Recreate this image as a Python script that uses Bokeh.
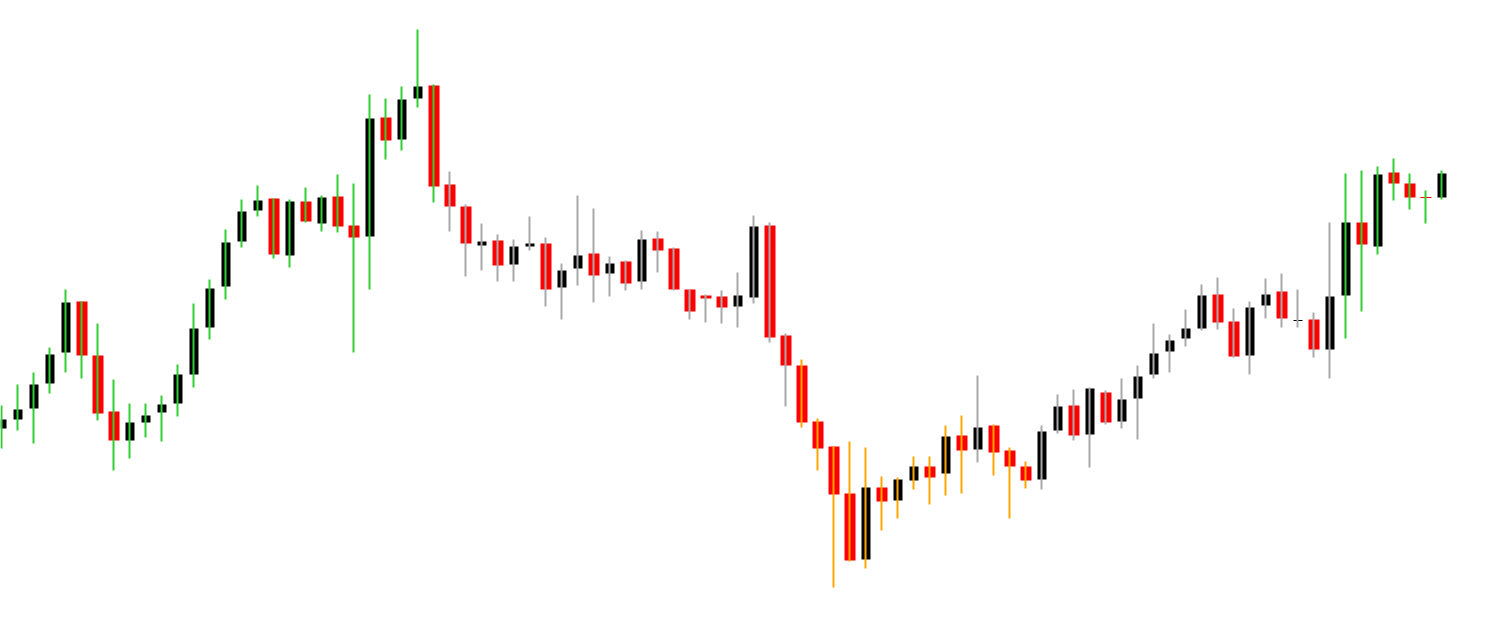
from bokeh.plotting import figure
from bokeh.models import Range1d, ColumnDataSource
from bokeh.embed import file_html
from bokeh.resources import INLINE

# ---- data ----
opens = [1.1172, 1.1181, 1.1192, 1.1217, 1.1248, 1.1299, 1.1245, 1.1189, 1.1160, 1.1178,
         1.1188, 1.1197, 1.1226, 1.1273, 1.1314, 1.1359, 1.1390, 1.1402, 1.1345, 1.1399,
         1.1377, 1.1404, 1.1375, 1.1364, 1.1483, 1.1461, 1.1502, 1.1515, 1.1416, 1.1394,
         1.1355, 1.1360, 1.1336, 1.1354, 1.1357, 1.1313, 1.1332, 1.1347, 1.1327, 1.1339,
         1.1319, 1.1362, 1.1352, 1.1311, 1.1305, 1.1304, 1.1294, 1.1303, 1.1375, 1.1265,
         1.1235, 1.1179, 1.1154, 1.1107, 1.1041, 1.1113, 1.1100, 1.1120, 1.1134, 1.1127,
         1.1165, 1.1151, 1.1175, 1.1150, 1.1134, 1.1121, 1.1170, 1.1195, 1.1166, 1.1208,
         1.1179, 1.1202, 1.1226, 1.1249, 1.1262, 1.1272, 1.1306, 1.1279, 1.1245, 1.1295,
         1.1309, 1.12795, 1.1281, 1.1251, 1.1305, 1.1378, 1.1354, 1.1428, 1.1417, 1.14035,
         1.1403]
highs = [1.1195, 1.1216, 1.1228, 1.1253, 1.1311, 1.1299, 1.1277, 1.1221, 1.1197, 1.1197,
         1.1205, 1.1236, 1.1297, 1.1321, 1.1371, 1.1401, 1.1415, 1.1402, 1.1401, 1.1413,
         1.1405, 1.1426, 1.1417, 1.1506, 1.1502, 1.1514, 1.1571, 1.1516, 1.1429, 1.1396,
         1.1377, 1.1366, 1.1361, 1.1384, 1.1363, 1.1337, 1.1405, 1.1392, 1.1344, 1.1340,
         1.1370, 1.1369, 1.1353, 1.1311, 1.1306, 1.1310, 1.1328, 1.1385, 1.1378, 1.1267,
         1.1241, 1.1182, 1.1154, 1.1159, 1.1153, 1.1124, 1.1123, 1.1144, 1.1144, 1.1175,
         1.1185, 1.1225, 1.1176, 1.1153, 1.1139, 1.1175, 1.1206, 1.1211, 1.1213, 1.1210,
         1.1222, 1.1235, 1.1277, 1.1266, 1.1291, 1.1316, 1.1323, 1.1292, 1.1299, 1.1322,
         1.1327, 1.1311, 1.1288, 1.1378, 1.1427, 1.1430, 1.1434, 1.1442, 1.1427, 1.1410,
         1.1430]
lows = [1.1152, 1.1170, 1.1157, 1.1207, 1.1228, 1.1222, 1.1180, 1.1130, 1.1142, 1.1163,
        1.1159, 1.1184, 1.1213, 1.1261, 1.1301, 1.1353, 1.1384, 1.1342, 1.1333, 1.1378,
        1.1369, 1.1368, 1.1248, 1.1311, 1.1441, 1.1450, 1.1493, 1.1398, 1.1369, 1.1324,
        1.1330, 1.1319, 1.1319, 1.1350, 1.1294, 1.1281, 1.1315, 1.1298, 1.1304, 1.1310,
        1.1311, 1.1328, 1.1310, 1.1281, 1.1278, 1.1277, 1.1273, 1.1297, 1.1258, 1.1194,
        1.1173, 1.1130, 1.1013, 1.1039, 1.1032, 1.1070, 1.1082, 1.1111, 1.1096, 1.1105,
        1.1107, 1.1138, 1.1125, 1.1082, 1.1112, 1.1111, 1.1167, 1.1160, 1.1133, 1.1176,
        1.1172, 1.1161, 1.1222, 1.1228, 1.1254, 1.1270, 1.1271, 1.1243, 1.1226, 1.1282,
        1.1273, 1.1273, 1.1243, 1.1222, 1.1262, 1.1289, 1.1346, 1.1400, 1.1391, 1.1377,
        1.1401]
closes = [1.1181, 1.1191, 1.1216, 1.1246, 1.1298, 1.1245, 1.1187, 1.1160, 1.1178, 1.1185,
          1.1196, 1.1226, 1.1272, 1.1312, 1.1358, 1.1389, 1.1400, 1.1346, 1.1399, 1.1379,
          1.1403, 1.1374, 1.1363, 1.1482, 1.1460, 1.1501, 1.1514, 1.1414, 1.1394, 1.1357,
          1.1359, 1.1335, 1.1354, 1.1357, 1.1311, 1.1330, 1.1345, 1.1325, 1.1337, 1.1317,
          1.1361, 1.1350, 1.1311, 1.1289, 1.1302, 1.1293, 1.1305, 1.1374, 1.1263, 1.1235,
          1.1178, 1.1152, 1.1106, 1.1040, 1.1113, 1.1099, 1.1121, 1.1134, 1.1123, 1.1164,
          1.1150, 1.1173, 1.1148, 1.1134, 1.1120, 1.1169, 1.1194, 1.1165, 1.1212, 1.1178,
          1.1201, 1.1224, 1.1247, 1.1260, 1.1272, 1.1305, 1.1278, 1.1244, 1.1293, 1.1306,
          1.1282, 1.12805, 1.1251, 1.1304, 1.1378, 1.1356, 1.1426, 1.1417, 1.1403, 1.14025,
          1.1427]
# trend regime of each bar: U = up (green wick), F = flat (grey wick), D = down (orange wick)
regime = ("UUUUUUUUUUUUUUUUUUUUUUUUUUUU"
          "FFFFFFFFFFFFFFFFFFFFFF"
          "DDDDDDDDDDD"
          "F"
          "DDD"
          "FFFFFFFFFFFFFFFFFFF"
          "UUUUUUU")

WICK_COLORS = {"U": "#32CD32", "F": "#A9A9A9", "D": "#FFA500"}
BULL_COLOR = "#000000"
BEAR_COLOR = "#FF0000"

n = len(opens)
idx = list(range(n))
bar_px = 16.0
body_shift = 0.5 / bar_px

bull = [c > o for o, c in zip(opens, closes)]

up_src = ColumnDataSource(dict(
    x=[i + body_shift for i in idx if bull[i]],
    top=[closes[i] for i in idx if bull[i]],
    bottom=[opens[i] for i in idx if bull[i]],
))
dn_src = ColumnDataSource(dict(
    x=[i + body_shift for i in idx if not bull[i]],
    top=[opens[i] for i in idx if not bull[i]],
    bottom=[closes[i] for i in idx if not bull[i]],
))
wick_src = ColumnDataSource(dict(
    x=idx, hi=highs, lo=lows, color=[WICK_COLORS[r] for r in regime],
))

W, H = 1505, 630
x0 = -1.0 / bar_px
p = figure(
    width=W, height=H,
    x_range=Range1d(x0, x0 + W / bar_px),
    y_range=Range1d(1.097, 1.160),
    output_backend="svg", toolbar_location=None,
    x_axis_location=None, y_axis_location=None,
    min_border=0, outline_line_color=None,
    background_fill_color="white", border_fill_color="white",
    styles={"position": "absolute", "left": "0px", "top": "0px"},
)
p.grid.visible = False

p.vbar(x="x", top="top", bottom="bottom", width=9 / bar_px, source=up_src,
       fill_color=BULL_COLOR, line_color=None)
p.vbar(x="x", top="top", bottom="bottom", width=11 / bar_px, source=dn_src,
       fill_color=BEAR_COLOR, line_color=None)
p.segment(x0="x", y0="lo", x1="x", y1="hi", source=wick_src,
          line_color="color", line_width=2)

open("out.html", "w").write(file_html(p, INLINE))
